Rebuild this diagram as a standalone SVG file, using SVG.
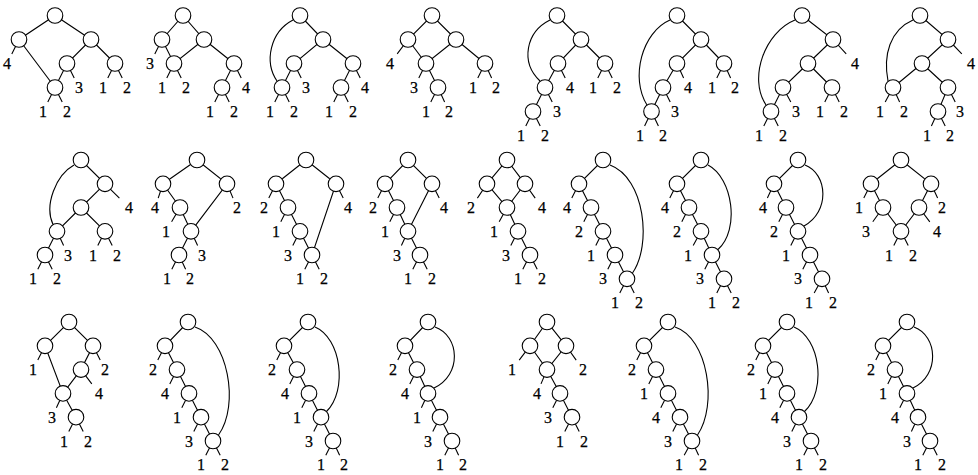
<svg xmlns="http://www.w3.org/2000/svg" width="978" height="475" viewBox="0 0 978 475" font-family="'Liberation Serif', 'DejaVu Serif', serif" font-size="16" text-anchor="middle">
<style>
.e path{fill:none;stroke:#000;stroke-width:1.1}
circle{fill:#fff;stroke:#000;stroke-width:1.1}
text{fill:#000;stroke:#000;stroke-width:0.25}
</style>
<rect width="978" height="475" fill="#fff"/>
<g id="connectors" class="e">
<path d="M11.8,53.9 L19,39.5 55,15.5 91,39.5 115,63.5 M19,39.5 L55,87.5 67,63.5 91,39.5 M67,63.5 L74.2,77.9 M107.8,77.9 L115,63.5 122.2,77.9 M47.8,101.9 L55,87.5 62.2,101.9"/>
<path d="M154.8,53.9 L162,39.5 183,15.5 204,39.5 234,63.5 222,87.5 M162,39.5 L174,63.5 204,39.5 M166.8,77.9 L174,63.5 181.2,77.9 M234,63.5 L241.2,77.9 M214.8,101.9 L222,87.5 229.2,101.9"/>
<path d="M300,15.5 L323,39.5 294,63.5 282,87.5 M323,39.5 L353,63.5 341,87.5 M294,63.5 L301.2,77.9 M274.8,101.9 L282,87.5 289.2,101.9 M353,63.5 L360.2,77.9 M333.8,101.9 L341,87.5 348.2,101.9 M293,20 C270,32 264,62 277,81"/>
<path d="M397.2,53.9 L408,39.5 432,15.5 456,39.5 485,63.5 M408,39.5 L426,63.5 456,39.5 M426,63.5 L438,87.5 M426,63.5 L418.8,77.9 M430.8,101.9 L438,87.5 444.6,101.9 M477.8,77.9 L485,63.5 491.6,77.9"/>
<path d="M557,15.5 L581,39.5 558,63.5 545,87.5 533,111.5 M581,39.5 L605,63.5 M558,63.5 L565.2,77.9 M597.8,77.9 L605,63.5 612.2,77.9 M545,87.5 L552.2,101.9 M525.8,125.9 L533,111.5 540.2,125.9 M550,20 C526,32 520,62 540,81"/>
<path d="M677,15.5 L701,39.5 677,63.5 663,87.5 651.5,111.5 M701,39.5 L724,63.5 M677,63.5 L683.6,77.9 M716.8,77.9 L724,63.5 730.6,77.9 M663,87.5 L670.2,101.9 M644.6,125.9 L651.5,111.5 658.4,125.9 M670,20 C642,32 630,78 647,105"/>
<path d="M802,15.5 L833,39.5 808,63.5 783,87.5 771,111.5 M808,63.5 L832,87.5 M833,39.5 L846.2,53.9 M783,87.5 L790.8,101.9 M824.8,101.9 L832,87.5 839.2,101.9 M763.8,125.9 L771,111.5 778.2,125.9 M795,20 C765,32 748,78 766,105"/>
<path d="M920,15.5 L948,39.5 922,63.5 893,87.5 M922,63.5 L948,87.5 938,111.5 M948,39.5 L961.8,53.9 M885.2,101.9 L893,87.5 899.6,101.9 M948,87.5 L955.2,101.9 M931.4,125.9 L938,111.5 945.2,125.9 M913,20 C890,30 883,55 888,81"/>
<path d="M81,160 L105,183.8 81,207.5 57,231.3 45,255 M81,207.5 L105,231.3 M105,183.8 L119.4,198.1 M57,231.3 L63.6,245.6 M97.8,245.6 L105,231.3 112.2,245.6 M37.8,269.3 L45,255 52.2,269.3 M74,165 C56,175 44,205 53,224.5"/>
<path d="M163,183.8 L197,160 227,183.8 191,231.3 179,255 M163,183.8 L180,207.5 191,231.3 M158.2,198.1 L163,183.8 M227,183.8 L233,198.1 M180,207.5 L171.6,221.8 M191,231.3 L197.6,245.6 M171.8,269.3 L179,255 185.6,269.3"/>
<path d="M276,183.8 L306,160 336,183.8 312,255 300,231.3 288,207.5 276,183.8 M268.8,198.1 L276,183.8 M336,183.8 L343.2,198.1 M288,207.5 L280.8,221.8 M300,231.3 L292.8,245.6 M304.8,269.3 L312,255 319.2,269.3"/>
<path d="M385,183.8 L408,160 432,183.8 408,231.3 420,255 M385,183.8 L397,207.5 408,231.3 M377.8,198.1 L385,183.8 M432,183.8 L439.2,198.1 M397,207.5 L389.8,221.8 M408,231.3 L401.4,245.6 M412.8,269.3 L420,255 427.2,269.3"/>
<path d="M487,183.8 L507,160 525,183.8 507,207.5 487,183.8 M507,207.5 L518,231.3 530,255 M477.4,198.1 L487,183.8 M525,183.8 L535.2,198.1 M507,207.5 L499.2,221.8 M518,231.3 L510.8,245.6 M522.8,269.3 L530,255 537.2,269.3"/>
<path d="M603,160 L579,183.8 591,207.5 603,231.3 615,255 627,278.8 M571.8,198.1 L579,183.8 M591,207.5 L583.8,221.8 M603,231.3 L595.8,245.6 M615,255 L607.8,269.3 M619.8,293.1 L627,278.8 634.2,293.1 M610,165 C645,178 652,245 632.5,273"/>
<path d="M701,160 L677,183.8 689,207.5 701,231.3 712,255 724,278.8 M669.8,198.1 L677,183.8 M689,207.5 L681.8,221.8 M701,231.3 L693.2,245.6 M712,255 L704.8,269.3 M716.8,293.1 L724,278.8 731.2,293.1 M708,165 C733,178 740,230 718,249.5"/>
<path d="M798,160 L774,183.8 786,207.5 798,231.3 810,255 822,278.8 M767.4,198.1 L774,183.8 M786,207.5 L778.8,221.8 M798,231.3 L790.8,245.6 M810,255 L802.8,269.3 M814.2,293.1 L822,278.8 828.6,293.1 M805,165 C828,174 830,212 804,226"/>
<path d="M871,183.8 L901,160 931,183.8 919,207.5 901,231.3 883,207.5 871,183.8 M863.8,198.1 L871,183.8 M931,183.8 L937.6,198.1 M883,207.5 L872.8,221.8 M919,207.5 L929.8,221.8 M893.8,245.6 L901,231.3 908.2,245.6"/>
<path d="M45,345.8 L69,322 93,345.8 81,369.6 63,393.4 45,345.8 M63,393.4 L76,417.2 M37.8,360.1 L45,345.8 M93,345.8 L100.2,360.1 M81,369.6 L91.8,383.9 M63,393.4 L56.4,407.7 M68.8,431.5 L76,417.2 83.2,431.5"/>
<path d="M188,322 L165,345.8 177,369.6 189,393.4 201,417.2 213,441 M157.8,360.1 L165,345.8 M177,369.6 L169.8,383.9 M189,393.4 L181.8,407.7 M201,417.2 L193.8,431.5 M205.8,455.3 L213,441 220.2,455.3 M195,327 C228,338 240,405 218.5,435"/>
<path d="M308,322 L284,345.8 297,369.6 309,393.4 321,417.2 333,441 M276.8,360.1 L284,345.8 M297,369.6 L289.8,383.9 M309,393.4 L301.8,407.7 M321,417.2 L313.8,431.5 M325.8,455.3 L333,441 339.6,455.3 M315,327 C341,338 348,390 326.5,411.5"/>
<path d="M428,322 L405,345.8 417,369.6 428,393.4 440,417.2 452,441 M397.8,360.1 L405,345.8 M417,369.6 L409.8,383.9 M428,393.4 L421.4,407.7 M440,417.2 L432.8,431.5 M444.8,455.3 L452,441 458.6,455.3 M435,327 C460,336 462,375 434,388"/>
<path d="M530,345.8 L547,322 566,345.8 547,369.6 530,345.8 M547,369.6 L560,393.4 572,417.2 M519.2,360.1 L530,345.8 M566,345.8 L576.2,360.1 M547,369.6 L541,383.9 M560,393.4 L552.8,407.7 M564.8,431.5 L572,417.2 579.2,431.5"/>
<path d="M668,322 L644,345.8 656,369.6 668,393.4 680,417.2 692,441 M636.8,360.1 L644,345.8 M656,369.6 L648.8,383.9 M668,393.4 L660.8,407.7 M680,417.2 L672.8,431.5 M684.2,455.3 L692,441 698.6,455.3 M675,327 C708,338 718,405 697.5,435"/>
<path d="M787,322 L763,345.8 775,369.6 787,393.4 799,417.2 811,441 M755.8,360.1 L763,345.8 M775,369.6 L767.8,383.9 M787,393.4 L779.8,407.7 M799,417.2 L791.8,431.5 M803.8,455.3 L811,441 818.2,455.3 M794,327 C820,338 827,390 804.5,411.5"/>
<path d="M907,322 L883,345.8 895,369.6 907,393.4 918,417.2 930,441 M875.8,360.1 L883,345.8 M895,369.6 L887.8,383.9 M907,393.4 L899.8,407.7 M918,417.2 L911.4,431.5 M922.8,455.3 L930,441 937.2,455.3 M914,327 C938,336 940,375 913,388"/>
</g>

<g id="net1">
<g id="n1a"><circle cx="55" cy="15.5" r="7.8"/></g><g id="n1b"><circle cx="19" cy="39.5" r="7.8"/></g><g id="n1c"><circle cx="91" cy="39.5" r="7.8"/></g><g id="n1d"><circle cx="67" cy="63.5" r="7.8"/></g><g id="n1e"><circle cx="115" cy="63.5" r="7.8"/></g><g id="n1f"><circle cx="55" cy="87.5" r="7.8"/></g>
<text x="7" y="69">4</text><text x="79" y="93">3</text><text x="103" y="93">1</text><text x="127" y="93">2</text><text x="43" y="117">1</text><text x="67" y="117">2</text>
</g>
<g id="net2">
<g id="n2a"><circle cx="183" cy="15.5" r="7.8"/></g><g id="n2b"><circle cx="162" cy="39.5" r="7.8"/></g><g id="n2c"><circle cx="204" cy="39.5" r="7.8"/></g><g id="n2d"><circle cx="174" cy="63.5" r="7.8"/></g><g id="n2e"><circle cx="234" cy="63.5" r="7.8"/></g><g id="n2f"><circle cx="222" cy="87.5" r="7.8"/></g>
<text x="150" y="69">3</text><text x="162" y="93">1</text><text x="186" y="93">2</text><text x="246" y="93">4</text><text x="210" y="117">1</text><text x="234" y="117">2</text>
</g>
<g id="net3">
<g id="n3a"><circle cx="300" cy="15.5" r="7.8"/></g><g id="n3b"><circle cx="323" cy="39.5" r="7.8"/></g><g id="n3c"><circle cx="294" cy="63.5" r="7.8"/></g><g id="n3d"><circle cx="353" cy="63.5" r="7.8"/></g><g id="n3e"><circle cx="282" cy="87.5" r="7.8"/></g><g id="n3f"><circle cx="341" cy="87.5" r="7.8"/></g>
<text x="306" y="93">3</text><text x="270" y="117">1</text><text x="294" y="117">2</text><text x="365" y="93">4</text><text x="329" y="117">1</text><text x="353" y="117">2</text>
</g>
<g id="net4">
<g id="n4a"><circle cx="432" cy="15.5" r="7.8"/></g><g id="n4b"><circle cx="408" cy="39.5" r="7.8"/></g><g id="n4c"><circle cx="456" cy="39.5" r="7.8"/></g><g id="n4d"><circle cx="426" cy="63.5" r="7.8"/></g><g id="n4e"><circle cx="485" cy="63.5" r="7.8"/></g><g id="n4f"><circle cx="438" cy="87.5" r="7.8"/></g>
<text x="390" y="69">4</text><text x="414" y="93">3</text><text x="426" y="117">1</text><text x="449" y="117">2</text><text x="473" y="93">1</text><text x="496" y="93">2</text>
</g>
<g id="net5">
<g id="n5a"><circle cx="557" cy="15.5" r="7.8"/></g><g id="n5b"><circle cx="581" cy="39.5" r="7.8"/></g><g id="n5c"><circle cx="558" cy="63.5" r="7.8"/></g><g id="n5d"><circle cx="605" cy="63.5" r="7.8"/></g><g id="n5e"><circle cx="545" cy="87.5" r="7.8"/></g><g id="n5f"><circle cx="533" cy="111.5" r="7.8"/></g>
<text x="570" y="93">4</text><text x="593" y="93">1</text><text x="617" y="93">2</text><text x="557" y="117">3</text><text x="521" y="141">1</text><text x="545" y="141">2</text>
</g>
<g id="net6">
<g id="n6a"><circle cx="677" cy="15.5" r="7.8"/></g><g id="n6b"><circle cx="701" cy="39.5" r="7.8"/></g><g id="n6c"><circle cx="677" cy="63.5" r="7.8"/></g><g id="n6d"><circle cx="724" cy="63.5" r="7.8"/></g><g id="n6e"><circle cx="663" cy="87.5" r="7.8"/></g><g id="n6f"><circle cx="651.5" cy="111.5" r="7.8"/></g>
<text x="688" y="93">4</text><text x="712" y="93">1</text><text x="735" y="93">2</text><text x="675" y="117">3</text><text x="640" y="141">1</text><text x="663" y="141">2</text>
</g>
<g id="net7">
<g id="n7a"><circle cx="802" cy="15.5" r="7.8"/></g><g id="n7b"><circle cx="833" cy="39.5" r="7.8"/></g><g id="n7c"><circle cx="808" cy="63.5" r="7.8"/></g><g id="n7d"><circle cx="783" cy="87.5" r="7.8"/></g><g id="n7e"><circle cx="832" cy="87.5" r="7.8"/></g><g id="n7f"><circle cx="771" cy="111.5" r="7.8"/></g>
<text x="855" y="69">4</text><text x="796" y="117">3</text><text x="820" y="117">1</text><text x="844" y="117">2</text><text x="759" y="141">1</text><text x="783" y="141">2</text>
</g>
<g id="net8">
<g id="n8a"><circle cx="920" cy="15.5" r="7.8"/></g><g id="n8b"><circle cx="948" cy="39.5" r="7.8"/></g><g id="n8c"><circle cx="922" cy="63.5" r="7.8"/></g><g id="n8d"><circle cx="893" cy="87.5" r="7.8"/></g><g id="n8e"><circle cx="948" cy="87.5" r="7.8"/></g><g id="n8f"><circle cx="938" cy="111.5" r="7.8"/></g>
<text x="971" y="69">4</text><text x="880" y="117">1</text><text x="904" y="117">2</text><text x="960" y="117">3</text><text x="927" y="141">1</text><text x="950" y="141">2</text>
</g>
<g id="net9">
<g id="n9a"><circle cx="81" cy="160" r="7.8"/></g><g id="n9b"><circle cx="105" cy="183.8" r="7.8"/></g><g id="n9c"><circle cx="81" cy="207.5" r="7.8"/></g><g id="n9d"><circle cx="57" cy="231.3" r="7.8"/></g><g id="n9e"><circle cx="105" cy="231.3" r="7.8"/></g><g id="n9f"><circle cx="45" cy="255" r="7.8"/></g>
<text x="129" y="213">4</text><text x="68" y="260.5">3</text><text x="93" y="260.5">1</text><text x="117" y="260.5">2</text><text x="33" y="284.3">1</text><text x="57" y="284.3">2</text>
</g>
<g id="net10">
<g id="n10a"><circle cx="197" cy="160" r="7.8"/></g><g id="n10b"><circle cx="163" cy="183.8" r="7.8"/></g><g id="n10c"><circle cx="227" cy="183.8" r="7.8"/></g><g id="n10d"><circle cx="180" cy="207.5" r="7.8"/></g><g id="n10e"><circle cx="191" cy="231.3" r="7.8"/></g><g id="n10f"><circle cx="179" cy="255" r="7.8"/></g>
<text x="155" y="213">4</text><text x="237" y="213">2</text><text x="166" y="236.8">1</text><text x="202" y="260.5">3</text><text x="167" y="284.3">1</text><text x="190" y="284.3">2</text>
</g>
<g id="net11">
<g id="n11a"><circle cx="306" cy="160" r="7.8"/></g><g id="n11b"><circle cx="276" cy="183.8" r="7.8"/></g><g id="n11c"><circle cx="336" cy="183.8" r="7.8"/></g><g id="n11d"><circle cx="288" cy="207.5" r="7.8"/></g><g id="n11e"><circle cx="300" cy="231.3" r="7.8"/></g><g id="n11f"><circle cx="312" cy="255" r="7.8"/></g>
<text x="264" y="213">2</text><text x="348" y="213">4</text><text x="276" y="236.8">1</text><text x="288" y="260.5">3</text><text x="300" y="284.3">1</text><text x="324" y="284.3">2</text>
</g>
<g id="net12">
<g id="n12a"><circle cx="408" cy="160" r="7.8"/></g><g id="n12b"><circle cx="385" cy="183.8" r="7.8"/></g><g id="n12c"><circle cx="432" cy="183.8" r="7.8"/></g><g id="n12d"><circle cx="397" cy="207.5" r="7.8"/></g><g id="n12e"><circle cx="408" cy="231.3" r="7.8"/></g><g id="n12f"><circle cx="420" cy="255" r="7.8"/></g>
<text x="373" y="213">2</text><text x="444" y="213">4</text><text x="385" y="236.8">1</text><text x="397" y="260.5">3</text><text x="408" y="284.3">1</text><text x="432" y="284.3">2</text>
</g>
<g id="net13">
<g id="n13a"><circle cx="507" cy="160" r="7.8"/></g><g id="n13b"><circle cx="487" cy="183.8" r="7.8"/></g><g id="n13c"><circle cx="525" cy="183.8" r="7.8"/></g><g id="n13d"><circle cx="507" cy="207.5" r="7.8"/></g><g id="n13e"><circle cx="518" cy="231.3" r="7.8"/></g><g id="n13f"><circle cx="530" cy="255" r="7.8"/></g>
<text x="471" y="213">2</text><text x="542" y="213">4</text><text x="494" y="236.8">1</text><text x="506" y="260.5">3</text><text x="518" y="284.3">1</text><text x="542" y="284.3">2</text>
</g>
<g id="net14">
<g id="n14a"><circle cx="603" cy="160" r="7.8"/></g><g id="n14b"><circle cx="579" cy="183.8" r="7.8"/></g><g id="n14c"><circle cx="591" cy="207.5" r="7.8"/></g><g id="n14d"><circle cx="603" cy="231.3" r="7.8"/></g><g id="n14e"><circle cx="615" cy="255" r="7.8"/></g><g id="n14f"><circle cx="627" cy="278.8" r="7.8"/></g>
<text x="567" y="213">4</text><text x="579" y="236.8">2</text><text x="591" y="260.5">1</text><text x="603" y="284.3">3</text><text x="615" y="308">1</text><text x="639" y="308">2</text>
</g>
<g id="net15">
<g id="n15a"><circle cx="701" cy="160" r="7.8"/></g><g id="n15b"><circle cx="677" cy="183.8" r="7.8"/></g><g id="n15c"><circle cx="689" cy="207.5" r="7.8"/></g><g id="n15d"><circle cx="701" cy="231.3" r="7.8"/></g><g id="n15e"><circle cx="712" cy="255" r="7.8"/></g><g id="n15f"><circle cx="724" cy="278.8" r="7.8"/></g>
<text x="665" y="213">4</text><text x="677" y="236.8">2</text><text x="688" y="260.5">1</text><text x="700" y="284.3">3</text><text x="712" y="308">1</text><text x="736" y="308">2</text>
</g>
<g id="net16">
<g id="n16a"><circle cx="798" cy="160" r="7.8"/></g><g id="n16b"><circle cx="774" cy="183.8" r="7.8"/></g><g id="n16c"><circle cx="786" cy="207.5" r="7.8"/></g><g id="n16d"><circle cx="798" cy="231.3" r="7.8"/></g><g id="n16e"><circle cx="810" cy="255" r="7.8"/></g><g id="n16f"><circle cx="822" cy="278.8" r="7.8"/></g>
<text x="763" y="213">4</text><text x="774" y="236.8">2</text><text x="786" y="260.5">1</text><text x="798" y="284.3">3</text><text x="809" y="308">1</text><text x="833" y="308">2</text>
</g>
<g id="net17">
<g id="n17a"><circle cx="901" cy="160" r="7.8"/></g><g id="n17b"><circle cx="871" cy="183.8" r="7.8"/></g><g id="n17c"><circle cx="931" cy="183.8" r="7.8"/></g><g id="n17d"><circle cx="883" cy="207.5" r="7.8"/></g><g id="n17e"><circle cx="919" cy="207.5" r="7.8"/></g><g id="n17f"><circle cx="901" cy="231.3" r="7.8"/></g>
<text x="859" y="213">1</text><text x="942" y="213">2</text><text x="866" y="236.8">3</text><text x="937" y="236.8">4</text><text x="889" y="260.5">1</text><text x="913" y="260.5">2</text>
</g>
<g id="net18">
<g id="n18a"><circle cx="69" cy="322" r="7.8"/></g><g id="n18b"><circle cx="45" cy="345.8" r="7.8"/></g><g id="n18c"><circle cx="93" cy="345.8" r="7.8"/></g><g id="n18d"><circle cx="81" cy="369.6" r="7.8"/></g><g id="n18e"><circle cx="63" cy="393.4" r="7.8"/></g><g id="n18f"><circle cx="76" cy="417.2" r="7.8"/></g>
<text x="33" y="375.1">1</text><text x="105" y="375.1">2</text><text x="99" y="398.9">4</text><text x="52" y="422.7">3</text><text x="64" y="446.5">1</text><text x="88" y="446.5">2</text>
</g>
<g id="net19">
<g id="n19a"><circle cx="188" cy="322" r="7.8"/></g><g id="n19b"><circle cx="165" cy="345.8" r="7.8"/></g><g id="n19c"><circle cx="177" cy="369.6" r="7.8"/></g><g id="n19d"><circle cx="189" cy="393.4" r="7.8"/></g><g id="n19e"><circle cx="201" cy="417.2" r="7.8"/></g><g id="n19f"><circle cx="213" cy="441" r="7.8"/></g>
<text x="153" y="375.1">2</text><text x="165" y="398.9">4</text><text x="177" y="422.7">1</text><text x="189" y="446.5">3</text><text x="201" y="470.3">1</text><text x="225" y="470.3">2</text>
</g>
<g id="net20">
<g id="n20a"><circle cx="308" cy="322" r="7.8"/></g><g id="n20b"><circle cx="284" cy="345.8" r="7.8"/></g><g id="n20c"><circle cx="297" cy="369.6" r="7.8"/></g><g id="n20d"><circle cx="309" cy="393.4" r="7.8"/></g><g id="n20e"><circle cx="321" cy="417.2" r="7.8"/></g><g id="n20f"><circle cx="333" cy="441" r="7.8"/></g>
<text x="272" y="375.1">2</text><text x="285" y="398.9">4</text><text x="297" y="422.7">1</text><text x="309" y="446.5">3</text><text x="321" y="470.3">1</text><text x="344" y="470.3">2</text>
</g>
<g id="net21">
<g id="n21a"><circle cx="428" cy="322" r="7.8"/></g><g id="n21b"><circle cx="405" cy="345.8" r="7.8"/></g><g id="n21c"><circle cx="417" cy="369.6" r="7.8"/></g><g id="n21d"><circle cx="428" cy="393.4" r="7.8"/></g><g id="n21e"><circle cx="440" cy="417.2" r="7.8"/></g><g id="n21f"><circle cx="452" cy="441" r="7.8"/></g>
<text x="393" y="375.1">2</text><text x="405" y="398.9">4</text><text x="417" y="422.7">1</text><text x="428" y="446.5">3</text><text x="440" y="470.3">1</text><text x="463" y="470.3">2</text>
</g>
<g id="net22">
<g id="n22a"><circle cx="547" cy="322" r="7.8"/></g><g id="n22b"><circle cx="530" cy="345.8" r="7.8"/></g><g id="n22c"><circle cx="566" cy="345.8" r="7.8"/></g><g id="n22d"><circle cx="547" cy="369.6" r="7.8"/></g><g id="n22e"><circle cx="560" cy="393.4" r="7.8"/></g><g id="n22f"><circle cx="572" cy="417.2" r="7.8"/></g>
<text x="512" y="375.1">1</text><text x="583" y="375.1">2</text><text x="537" y="398.9">4</text><text x="548" y="422.7">3</text><text x="560" y="446.5">1</text><text x="584" y="446.5">2</text>
</g>
<g id="net23">
<g id="n23a"><circle cx="668" cy="322" r="7.8"/></g><g id="n23b"><circle cx="644" cy="345.8" r="7.8"/></g><g id="n23c"><circle cx="656" cy="369.6" r="7.8"/></g><g id="n23d"><circle cx="668" cy="393.4" r="7.8"/></g><g id="n23e"><circle cx="680" cy="417.2" r="7.8"/></g><g id="n23f"><circle cx="692" cy="441" r="7.8"/></g>
<text x="632" y="375.1">2</text><text x="644" y="398.9">1</text><text x="656" y="422.7">4</text><text x="668" y="446.5">3</text><text x="679" y="470.3">1</text><text x="703" y="470.3">2</text>
</g>
<g id="net24">
<g id="n24a"><circle cx="787" cy="322" r="7.8"/></g><g id="n24b"><circle cx="763" cy="345.8" r="7.8"/></g><g id="n24c"><circle cx="775" cy="369.6" r="7.8"/></g><g id="n24d"><circle cx="787" cy="393.4" r="7.8"/></g><g id="n24e"><circle cx="799" cy="417.2" r="7.8"/></g><g id="n24f"><circle cx="811" cy="441" r="7.8"/></g>
<text x="751" y="375.1">2</text><text x="763" y="398.9">1</text><text x="775" y="422.7">4</text><text x="787" y="446.5">3</text><text x="799" y="470.3">1</text><text x="823" y="470.3">2</text>
</g>
<g id="net25">
<g id="n25a"><circle cx="907" cy="322" r="7.8"/></g><g id="n25b"><circle cx="883" cy="345.8" r="7.8"/></g><g id="n25c"><circle cx="895" cy="369.6" r="7.8"/></g><g id="n25d"><circle cx="907" cy="393.4" r="7.8"/></g><g id="n25e"><circle cx="918" cy="417.2" r="7.8"/></g><g id="n25f"><circle cx="930" cy="441" r="7.8"/></g>
<text x="871" y="375.1">2</text><text x="883" y="398.9">1</text><text x="895" y="422.7">4</text><text x="907" y="446.5">3</text><text x="918" y="470.3">1</text><text x="942" y="470.3">2</text>
</g>
</svg>
